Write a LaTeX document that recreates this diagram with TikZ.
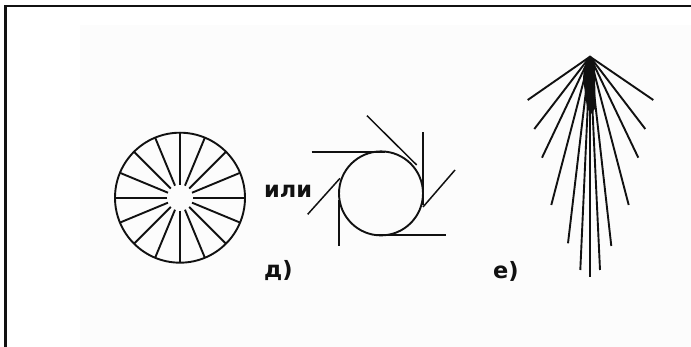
\documentclass[tikz,border=0pt]{standalone}
\usepackage{fontspec}
\setmainfont{DejaVu Sans}
\usetikzlibrary{calc}
\definecolor{bgpatch}{HTML}{FCFCFC}
\definecolor{ink}{HTML}{111111}
\tikzset{
  figline/.style={draw=ink,line width=1.9pt},
  thinline/.style={draw=ink,line width=1.5pt},
  framing/.style={draw=ink,line width=2.2pt},
  lab/.style={font=\bfseries\fontsize{22.5}{23}\selectfont,text=ink,inner sep=0pt,anchor=base west}
}
\begin{document}
\begin{tikzpicture}[x=1pt,y=-1pt]
\useasboundingbox (0,0) rectangle (691,347);
\fill[white] (0,0) rectangle (691,347);
\fill[bgpatch] (80,25) rectangle (691,347);
% frame
\draw[framing] (5.5,347) -- (5.5,6) -- (691,6);
% wheel
\coordinate (wc) at (180,197.7);
\draw[figline] (wc) circle[radius=65];
\foreach \a in {0,22.5,...,337.5}
  \draw[figline] ($(wc)+(\a:13)$) -- ($(wc)+(\a:65)$);
% circle with tangents
\coordinate (cc) at (381,193.4);
\draw[figline] (cc) circle[radius=42];
\draw[figline] (311.7,152) -- (385,152);
\draw[thinline] (367,115.7) -- (416.7,165);
\draw[figline] (423.3,132.3) -- (423.3,205);
\draw[thinline] (455,170) -- (423,207);
\draw[figline] (445.7,235.3) -- (375,235.3);
\draw[thinline] (307.7,214.3) -- (340,178.3);
\draw[figline] (339.3,246) -- (339.3,200);
% fan
\coordinate (ap) at (590,56.7);
\fill[ink] (590,55) -- (595,66) -- (595.5,108) -- (591,114) -- (587,108) -- (583,78) -- (584,68) -- cycle;
\foreach \x/\y in {527.7/100,534.3/129,542/157.7,551.3/205,568/243.3,580.3/270,590/276.7,600/270,611.3/246,628.7/205,638.3/157.7,645.3/129,653.3/100}
  \draw[figline] (ap) -- (\x,\y);
% labels
\node[lab] (ili) at (264,198) {или};
\node[lab] (d) at (264,278) {д)};
\node[lab] (e) at (493,279) {е)};
\end{tikzpicture}
\end{document}
